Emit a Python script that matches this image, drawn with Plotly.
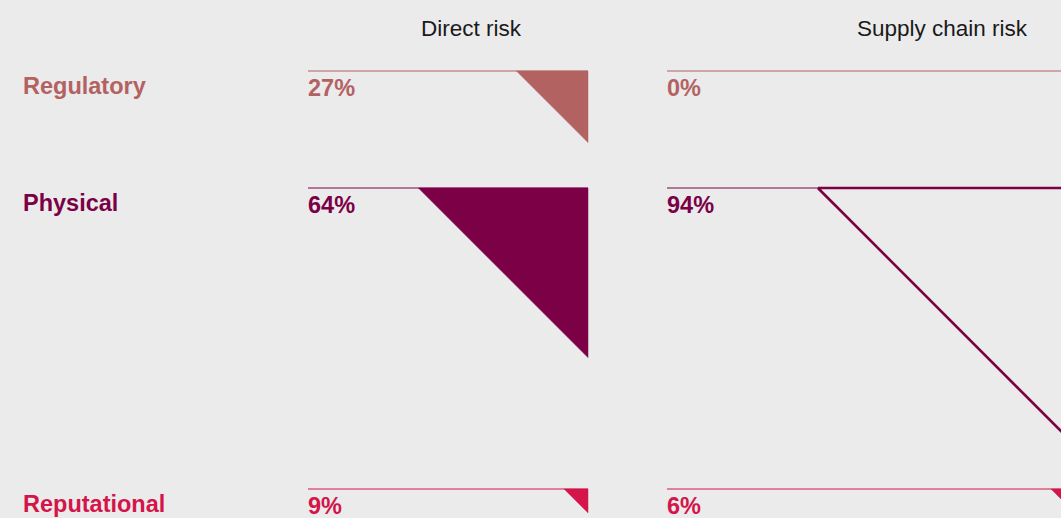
import plotly.graph_objects as go

# ---- data ----
categories = ["Regulatory", "Physical", "Reputational"]
columns = ["Direct risk", "Supply chain risk"]
direct_risk = [27, 64, 9]
supply_chain_risk = [0, 94, 6]
cat_colors = ["#b36262", "#7c0046", "#d3154a"]

# ---- layout constants (pixels) ----
W, H = 1061, 518
PX_PER_PCT = 2.65
row_tops = [71, 188, 489]
panel_left = [308, 667]
panel_right = [588, 1067]
header_x = [471, 942]
header_y = 28
label_x = 23
FONT = "Liberation Sans, Arial, Helvetica, sans-serif"
BG = "#ebebeb"

fig = go.Figure()
annotations = []

series = [direct_risk, supply_chain_risk]
for c, vals in enumerate(series):
    annotations.append(dict(x=header_x[c], y=header_y, text=columns[c], showarrow=False,
                            xanchor="center", yanchor="middle",
                            font=dict(family=FONT, size=22.5, color="#1a1a1a")))
    for r, v in enumerate(vals):
        top = row_tops[r]
        col = cat_colors[r]
        # baseline
        fig.add_trace(go.Scatter(x=[panel_left[c], panel_right[c]], y=[top, top], mode="lines",
                                 line=dict(color=col, width=1.2), hoverinfo="skip", showlegend=False))
        side = v * PX_PER_PCT
        if v > 0:
            xs = [panel_right[c] - side, panel_right[c], panel_right[c], panel_right[c] - side]
            ys = [top, top, top + side, top]
            if c == 0 or side < 30:
                fig.add_trace(go.Scatter(x=xs, y=ys, mode="lines", fill="toself", fillcolor=col,
                                         line=dict(color=col, width=0.5), hoverinfo="skip",
                                         showlegend=False))
            else:
                fig.add_trace(go.Scatter(x=xs, y=ys, mode="lines",
                                         line=dict(color=col, width=2.6), hoverinfo="skip",
                                         showlegend=False))
        annotations.append(dict(x=panel_left[c], y=top + 17, text=f"<b>{v}%</b>", showarrow=False,
                                xanchor="left", yanchor="middle", xshift=-2,
                                font=dict(family=FONT, size=23.5, color=col)))

for r, cat in enumerate(categories):
    annotations.append(dict(x=label_x, y=row_tops[r] + 15, text=f"<b>{cat}</b>", showarrow=False,
                            xanchor="left", yanchor="middle", xshift=-2,
                            font=dict(family=FONT, size=23.5, color=cat_colors[r])))

fig.update_layout(
    width=W, height=H,
    margin=dict(l=0, r=0, t=0, b=0),
    paper_bgcolor=BG, plot_bgcolor=BG,
    xaxis=dict(range=[0, W], visible=False, fixedrange=True),
    yaxis=dict(range=[H, 0], visible=False, fixedrange=True),
    annotations=annotations,
    showlegend=False,
)

fig.write_html("out.html")
